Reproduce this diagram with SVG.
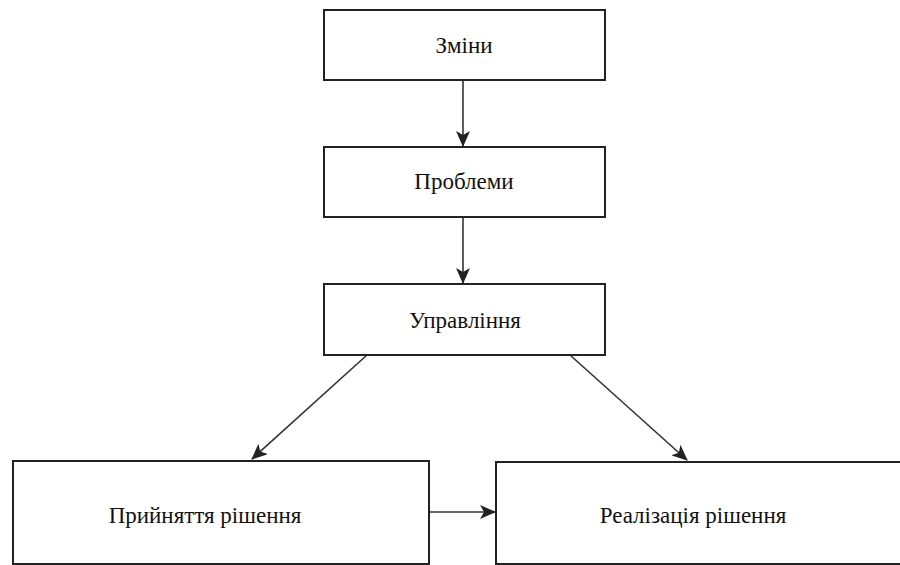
<svg xmlns="http://www.w3.org/2000/svg" width="900" height="565" viewBox="0 0 900 565">
<defs>
<marker id="arr" markerWidth="16" markerHeight="14" refX="15" refY="7" orient="auto" markerUnits="userSpaceOnUse">
<path d="M0,0 L16,7 L0,14 L4,7 Z" fill="#222"/>
</marker>
<style>
.box{fill:#fff;stroke:#222;stroke-width:2}
.lbl{font-family:"Liberation Serif","Times New Roman",serif;font-size:23px;fill:#111;text-anchor:middle}
.con{stroke:#333;stroke-width:1.6;fill:none;marker-end:url(#arr)}
</style>
</defs>
<rect width="900" height="565" fill="#fff"/>
<g id="connectors">
<line class="con" x1="463" y1="80" x2="463" y2="146"/>
<line class="con" x1="463" y1="217" x2="463" y2="283"/>
<line class="con" x1="367" y1="355" x2="252" y2="459"/>
<line class="con" x1="570" y1="355" x2="687" y2="460"/>
<line class="con" x1="429" y1="512" x2="495" y2="512"/>
</g>
<g id="node-zminy">
<rect class="box" x="324" y="10" width="281" height="70"/>
<text class="lbl" x="464" y="53">Зміни</text>
</g>
<g id="node-problemy">
<rect class="box" x="324" y="147" width="281" height="70"/>
<text class="lbl" x="464" y="189">Проблеми</text>
</g>
<g id="node-upravlinnia">
<rect class="box" x="324" y="284" width="281" height="71"/>
<text class="lbl" x="465" y="328">Управління</text>
</g>
<g id="node-pryiniattia">
<rect class="box" x="13" y="461" width="416" height="103"/>
<text class="lbl" x="205" y="523">Прийняття рішення</text>
</g>
<g id="node-realizatsiia">
<rect class="box" x="496" y="462" width="410" height="102"/>
<text class="lbl" x="693" y="523">Реалізація рішення</text>
</g>
</svg>
